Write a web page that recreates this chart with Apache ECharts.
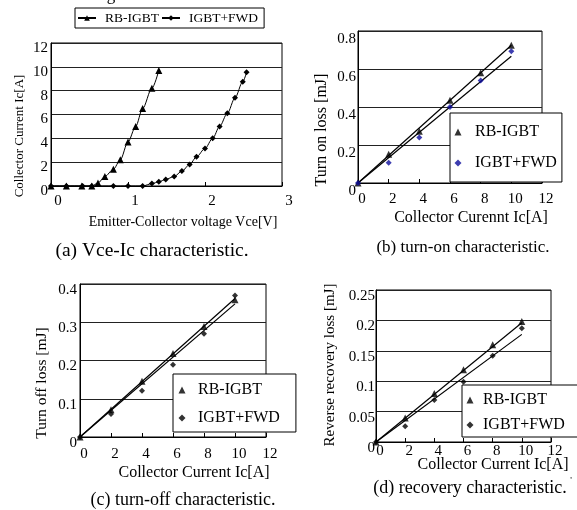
<!DOCTYPE html>
<html>
<head>
<meta charset="utf-8">
<script src="https://cdn.jsdelivr.net/npm/echarts@6/dist/echarts.min.js"></script>
<style>
html,body{margin:0;padding:0;background:#fff;}
#main{width:577px;height:510px;}
</style>
</head>
<body>
<div id="main"></div>
<script>
// (a) Vce-Ic curves, [Vce, Ic]
var vceRb = [[0,0],[0.2,0],[0.4,0],[0.53,0],[0.61,0.25],[0.7,0.8],[0.81,1.4],[0.9,2.2],[1.0,3.7],[1.1,5.0],[1.19,6.5],[1.31,8.2],[1.4,9.7]];
var vceFwd = [[0,0],[0.2,0],[0.41,0],[0.53,0],[0.81,0],[1.0,0],[1.19,0],[1.31,0.2],[1.4,0.35],[1.49,0.55],[1.6,0.8],[1.7,1.25],[1.8,1.8],[1.89,2.45],[2.0,3.15],[2.1,4.0],[2.19,5.0],[2.29,6.1],[2.39,7.4],[2.49,8.75],[2.54,9.55]];

// (b)(c)(d) losses vs collector current
var currents = [0, 2, 4, 6, 8, 10];
var onRb = [0, 0.151, 0.272, 0.435, 0.58, 0.725];
var onFwd = [0, 0.107, 0.239, 0.40, 0.54, 0.693];
var offRb = [0, 0.0715, 0.146, 0.218, 0.289, 0.359];
var offFwd = [0, 0.060, 0.121, 0.189, 0.270, 0.370];
var recRb = [0, 0.0396, 0.0797, 0.119, 0.160, 0.198];
var recFwd = [0, 0.026, 0.069, 0.099, 0.142, 0.187];

// fitted lines: end points at 0 A and 10 A
var fitX = [0, 10];
var onFitRb = [0, 0.725], onFitFwd = [0, 0.667];
var offFitRb = [0, 0.362], offFitFwd = [0, 0.348];
var recFitRb = [0, 0.196], recFitFwd = [0, 0.177];

var FONT = '"Liberation Serif", "Times New Roman", serif';

function pairs(xs, ys){ return xs.map(function(x, i){ return [x, ys[i]]; }); }

function xAx(idx, max, interval, shift, margin){
  return {
    type: 'value', gridIndex: idx, min: 0, max: max, interval: interval,
    axisLine: {show: true, lineStyle: {color: '#000', width: 1}},
    axisTick: {show: true, inside: true, length: 4, lineStyle: {color: '#000'}},
    splitLine: {show: false},
    axisLabel: {color: '#000', fontFamily: FONT, fontSize: 15, margin: margin, padding: [0,0,0,shift]}
  };
}
function yAx(idx, max, interval, down, margin){
  return {
    type: 'value', gridIndex: idx, min: 0, max: max, interval: interval,
    axisLine: {show: true, lineStyle: {color: '#000', width: 1}},
    axisTick: {show: false},
    splitLine: {show: true, lineStyle: {color: '#222', width: 1}},
    axisLabel: {color: '#000', fontFamily: FONT, fontSize: 15, margin: margin,
      verticalAlign: 'top', lineHeight: down * 2}
  };
}
function fitLine(name, idx, ys){
  return {name: name, type: 'line', xAxisIndex: idx, yAxisIndex: idx, data: pairs(fitX, ys),
    symbol: 'none', silent: true, lineStyle: {color: '#000', width: 1.2}, z: 2};
}
function marks(name, idx, ys, sym, size, color){
  return {name: name, type: 'scatter', xAxisIndex: idx, yAxisIndex: idx, data: pairs(currents, ys),
    symbol: sym, symbolSize: size, itemStyle: {color: color}, z: 3};
}
function boxLegend(names, left, top, pad, gap, textPad){
  return {
    data: names, left: left, top: top, orient: 'vertical', padding: pad, itemGap: gap,
    itemWidth: 7, itemHeight: 7, backgroundColor: '#fff', borderColor: '#000', borderWidth: 1,
    selectedMode: false,
    formatter: function(n){ return n.split('|')[1]; },
    textStyle: {color: '#000', fontFamily: FONT, fontSize: 16, padding: [0,0,0,textPad]}
  };
}
function label(text, x, y, size, rot){
  return {type: 'text', x: x, y: y, rotation: rot || 0, z: 10,
    style: {text: text, fill: '#000', font: size + 'px ' + FONT, align: 'center', verticalAlign: 'middle'}};
}

var chart = echarts.init(document.getElementById('main'));
chart.setOption({
  animation: false,
  grid: [
    {left: 51, top: 43, width: 231, height: 143, show: true, borderColor: '#000', borderWidth: 1},
    {left: 358, top: 31, width: 184, height: 152, show: true, borderColor: '#000', borderWidth: 1},
    {left: 80, top: 284, width: 186, height: 153, show: true, borderColor: '#000', borderWidth: 1},
    {left: 376, top: 290, width: 175, height: 152, show: true, borderColor: '#000', borderWidth: 1}
  ],
  xAxis: [xAx(0, 3, 1, 14, 8), xAx(1, 12, 2, 8, 9), xAx(2, 12, 2, 8, 10), xAx(3, 12, 2, 8, 2)],
  yAxis: [yAx(0, 12, 2, 5, 3), yAx(1, 0.8, 0.2, 8, 2), yAx(2, 0.4, 0.1, 6, 3), yAx(3, 0.25, 0.05, 6, 1)],
  legend: [
    {
      data: ['a|RB-IGBT', 'a|IGBT+FWD'], left: 75, top: 8, orient: 'horizontal',
      padding: [3, 6, 3, 2], itemGap: 2, itemWidth: 18, itemHeight: 7,
      borderColor: '#000', borderWidth: 1, selectedMode: false,
      formatter: function(n){ return n.split('|')[1]; },
      textStyle: {color: '#000', fontFamily: FONT, fontSize: 13.5, padding: [0,0,0,4]}
    },
    boxLegend(['b|RB-IGBT', 'b|IGBT+FWD'], 450, 113, [11, 5, 11, 4.5], 15, 8.5),
    boxLegend(['c|RB-IGBT', 'c|IGBT+FWD'], 173, 374, [8, 16, 6, 5.5], 12, 7.5),
    boxLegend(['d|RB-IGBT', 'd|IGBT+FWD'], 462, 385, [7, 40, 4, 4.5], 9, 4.5)
  ],
  series: [
    {name: 'a|RB-IGBT', type: 'line', xAxisIndex: 0, yAxisIndex: 0, data: vceRb, smooth: 0.3, smoothMonotone: 'x',
      symbol: 'triangle', symbolSize: 7, itemStyle: {color: '#000'}, lineStyle: {color: '#000', width: 1}},
    {name: 'a|IGBT+FWD', type: 'line', xAxisIndex: 0, yAxisIndex: 0, data: vceFwd, smooth: 0.3, smoothMonotone: 'x',
      symbol: 'diamond', symbolSize: 6, itemStyle: {color: '#000'}, lineStyle: {color: '#000', width: 1}},

    fitLine('fit-on-rb', 1, onFitRb),
    fitLine('fit-on-fwd', 1, onFitFwd),
    marks('b|RB-IGBT', 1, onRb, 'triangle', 7, '#000'),
    marks('b|IGBT+FWD', 1, onFwd, 'diamond', 6, '#0c0c9c'),

    fitLine('fit-off-rb', 2, offFitRb),
    fitLine('fit-off-fwd', 2, offFitFwd),
    marks('c|RB-IGBT', 2, offRb, 'triangle', 7, '#000'),
    marks('c|IGBT+FWD', 2, offFwd, 'diamond', 6, '#000'),

    fitLine('fit-rec-rb', 3, recFitRb),
    fitLine('fit-rec-fwd', 3, recFitFwd),
    marks('d|RB-IGBT', 3, recRb, 'triangle', 7, '#000'),
    marks('d|IGBT+FWD', 3, recFwd, 'diamond', 6, '#000')
  ],
  graphic: [
    label('g', 111, -4, 17),
    label('Collector Current Ic[A]', 20, 136, 13, Math.PI / 2),
    label('Emitter-Collector voltage Vce[V]', 183, 222, 14),
    label('(a) Vce-Ic characteristic.', 152, 251, 19.5),
    label('Turn on loss [mJ]', 322, 130, 16, Math.PI / 2),
    label('Collector Curennt Ic[A]', 471, 218, 16),
    label('(b) turn-on characteristic.', 463, 248, 17),
    label('Turn off loss [mJ]', 42, 383, 15.5, Math.PI / 2),
    label('Collector Current Ic[A]', 194, 473, 16),
    label('(c) turn-off characteristic.', 183, 500, 18),
    label('Reverse recovery loss [mJ]', 330, 365, 15, Math.PI / 2),
    label('Collector Current Ic[A]', 493, 465, 16),
    label('(d) recovery characteristic.', 470, 488, 18),
    label("'", 571, 481, 9)
  ]
});
</script>
</body>
</html>
